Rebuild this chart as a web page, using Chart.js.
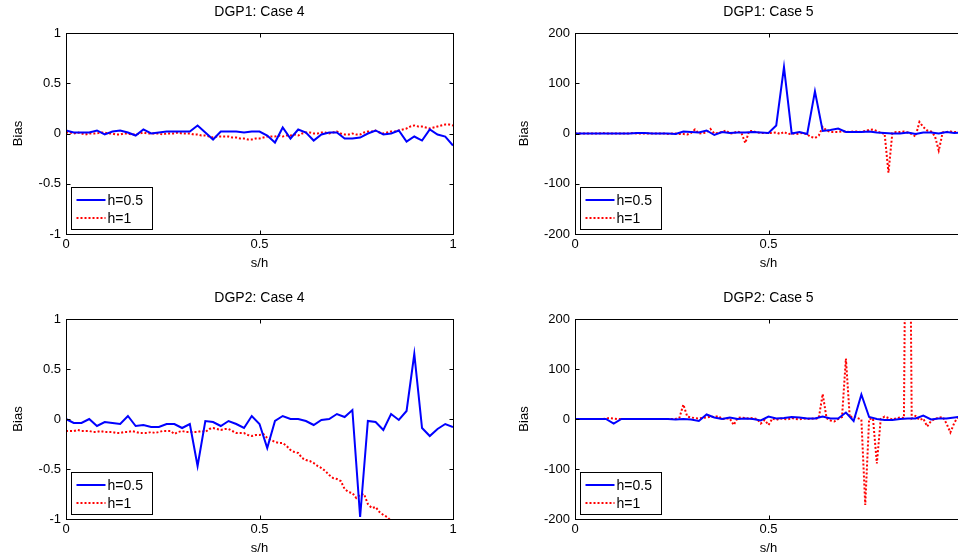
<!DOCTYPE html>
<html>
<head>
<meta charset="utf-8">
<script src="https://cdn.jsdelivr.net/npm/chart.js@4.4.1/dist/chart.umd.min.js"></script>
<style>
  html, body { margin: 0; padding: 0; background: #fff; overflow: hidden; width: 958px; height: 554px; }
  canvas { position: absolute; }
</style>
</head>
<body>
<canvas id="c1" width="479" height="277" style="left:0;top:0"></canvas>
<canvas id="c2" width="500" height="277" style="left:479px;top:0"></canvas>
<canvas id="c3" width="479" height="268" style="left:0;top:286px"></canvas>
<canvas id="c4" width="500" height="268" style="left:479px;top:286px"></canvas>
<script>
// s/h grids: h=0.5 is sampled every 0.02, h=1 every 0.01
const SH_05 = [0, 0.02, 0.04, 0.06, 0.08, 0.1, 0.12, 0.14, 0.16, 0.18, 0.2, 0.22, 0.24, 0.26, 0.28, 0.3,
  0.32, 0.34, 0.36, 0.38, 0.4, 0.42, 0.44, 0.46, 0.48, 0.5, 0.52, 0.54, 0.56, 0.58, 0.6, 0.62, 0.64, 0.66,
  0.68, 0.7, 0.72, 0.74, 0.76, 0.78, 0.8, 0.82, 0.84, 0.86, 0.88, 0.9, 0.92, 0.94, 0.96, 0.98, 1];
const SH_1 = [0, 0.01, 0.02, 0.03, 0.04, 0.05, 0.06, 0.07, 0.08, 0.09, 0.1, 0.11, 0.12, 0.13, 0.14, 0.15,
  0.16, 0.17, 0.18, 0.19, 0.2, 0.21, 0.22, 0.23, 0.24, 0.25, 0.26, 0.27, 0.28, 0.29, 0.3, 0.31, 0.32, 0.33,
  0.34, 0.35, 0.36, 0.37, 0.38, 0.39, 0.4, 0.41, 0.42, 0.43, 0.44, 0.45, 0.46, 0.47, 0.48, 0.49, 0.5, 0.51,
  0.52, 0.53, 0.54, 0.55, 0.56, 0.57, 0.58, 0.59, 0.6, 0.61, 0.62, 0.63, 0.64, 0.65, 0.66, 0.67, 0.68, 0.69,
  0.7, 0.71, 0.72, 0.73, 0.74, 0.75, 0.76, 0.77, 0.78, 0.79, 0.8, 0.81, 0.82, 0.83, 0.84, 0.85, 0.86, 0.87,
  0.88, 0.89, 0.9, 0.91, 0.92, 0.93, 0.94, 0.95, 0.96, 0.97, 0.98, 0.99, 1];

// DGP1: Case 4
const D1C4_H05 = [0.03, 0.01, 0.01, 0.01, 0.03, -0.01, 0.02, 0.03, 0.01, -0.02,
  0.04, 0.00, 0.01, 0.02, 0.02, 0.02, 0.02, 0.08, 0.01, -0.06,
  0.02, 0.02, 0.02, 0.01, 0.02, 0.02, -0.02, -0.09, 0.06, -0.05,
  0.04, 0.01, -0.07, -0.01, 0.01, 0.01, -0.05, -0.05, -0.04, 0.00,
  0.03, -0.01, 0.00, 0.03, -0.08, -0.03, -0.07, 0.04, -0.01, -0.03,
  -0.12];
const D1C4_H1 = [0.01, 0.01, 0.00, 0.01, 0.00, -0.01, 0.00, 0.00, 0.00, 0.01,
  0.01, 0.00, 0.00, -0.01, -0.01, 0.00, 0.00, -0.01, -0.01, 0.00,
  0.01, 0.00, 0.00, 0.00, 0.00, -0.01, 0.00, 0.00, 0.00, 0.01,
  0.00, 0.00, 0.00, -0.01, -0.01, -0.02, -0.02, -0.03, -0.04, -0.03,
  -0.03, -0.03, -0.03, -0.04, -0.04, -0.05, -0.05, -0.06, -0.06, -0.05,
  -0.05, -0.04, -0.03, -0.03, -0.03, -0.02, -0.03, -0.02, -0.02, -0.01,
  -0.02, 0.00, 0.01, 0.01, 0.00, 0.00, 0.01, 0.01, 0.00, 0.01,
  0.02, 0.00, -0.01, -0.01, 0.00, -0.01, -0.01, 0.01, 0.02, 0.02,
  0.03, 0.01, 0.00, 0.01, 0.02, 0.02, 0.03, 0.04, 0.05, 0.07,
  0.08, 0.07, 0.07, 0.06, 0.05, 0.06, 0.07, 0.08, 0.09, 0.09,
  0.08];

// DGP1: Case 5
const D1C5_H05 = [0, 0, 0, 0, 0, 0, 0, 0, 1, 1,
  0, 0, 0, -1, 4, 3, 2, 6, -3, 3,
  1, 2, 2, 3, 2, 1, 16, 132, 0, 3,
  -1, 84, 5, 7, 10, 3, 3, 3, 4, 2,
  1, 0, 0, 2, -1, 2, 2, 0, 3, 1,
  2];
const D1C5_H1 = [0, 0, 0, 0, 0, 0, 0, 1, 0, 0,
  0, 0, 0, 0, 0, 1, 0, 0, 0, 0,
  0, 0, 0, 0, -1, 0, 0, -1, -1, -2,
  1, 8, 0, 1, 2, 9, 0, 1, 3, 6,
  0, 1, 4, 1, -19, 5, 5, 2, 1, 1,
  1, 1, 2, -1, 3, -1, 0, -1, 0, 1,
  -2, -7, -9, -4, 13, 6, 3, 3, 3, 4,
  4, 3, 4, 4, 3, 5, 7, 8, 5, 1,
  0, -78, 1, 3, 3, 4, 2, -1, -6, 23,
  13, 6, 4, -5, -34, 2, 3, 4, 3, 3,
  2];

// DGP2: Case 4
const D2C4_H05 = [0.00, -0.04, -0.04, 0.00, -0.07, -0.03, -0.04, -0.05, 0.03, -0.07,
  -0.06, -0.08, -0.08, -0.05, -0.05, -0.09, -0.05, -0.47, -0.02, -0.03,
  -0.07, -0.02, -0.05, -0.09, 0.03, -0.05, -0.29, -0.02, 0.03, 0.00,
  0.00, -0.02, -0.06, -0.01, 0.00, 0.05, 0.02, 0.09, -0.98, -0.02,
  -0.03, -0.11, 0.05, -0.01, 0.08, 0.65, -0.09, -0.17, -0.10, -0.05,
  -0.08];
const D2C4_H1 = [-0.12, -0.12, -0.12, -0.11, -0.12, -0.12, -0.12, -0.13, -0.13, -0.12,
  -0.13, -0.13, -0.13, -0.14, -0.14, -0.13, -0.13, -0.12, -0.13, -0.14,
  -0.14, -0.14, -0.13, -0.14, -0.13, -0.12, -0.12, -0.12, -0.15, -0.13,
  -0.12, -0.13, -0.13, -0.13, -0.13, -0.12, -0.13, -0.10, -0.09, -0.10,
  -0.11, -0.10, -0.10, -0.12, -0.14, -0.14, -0.14, -0.16, -0.17, -0.16,
  -0.16, -0.15, -0.19, -0.21, -0.23, -0.24, -0.24, -0.27, -0.31, -0.33,
  -0.34, -0.39, -0.41, -0.42, -0.44, -0.47, -0.49, -0.52, -0.56, -0.59,
  -0.60, -0.62, -0.70, -0.73, -0.74, -0.79, -0.76, -0.75, -0.85, -0.89,
  -0.88, -0.93, -0.96, -0.98, -1.02, -1.05, -1.08, -1.10, -1.13, -1.15,
  -1.18, -1.20, -1.22, -1.25, -1.27, -1.30, -1.32, -1.34, -1.36, -1.38,
  -1.40];

// DGP2: Case 5
const D2C5_H05 = [0, 0, 0, 0, 0, -9, 0, 0, 0, 0,
  0, 0, 0, -1, 0, -1, -4, 9, 3, 0,
  3, 0, 1, 0, -3, 5, 1, 2, 4, 3,
  1, 1, 5, 1, 1, 13, -4, 49, 4, 0,
  -2, -2, 0, 1, 1, 7, -1, 1, 1, 3,
  5];
const D2C5_H1 = [0, 0, 0, 0, 0, 0, 0, 0, 1, 2,
  1, 0, 0, 0, 0, 0, 0, 0, 0, 0,
  0, 0, 0, 0, 0, 0, 0, 3, 29, 5,
  3, 2, 1, 2, 3, 5, 4, 6, 0, 1,
  1, -12, 2, 3, 2, 1, 2, 0, -9, -2,
  -12, 1, -2, 1, 0, -1, 2, 0, -1, 1,
  0, 1, 0, 2, 50, 2, -3, -5, 0, 4,
  121, 3, 6, 2, -1, -172, 0, 1, -89, 0,
  5, 2, -1, 1, 3, 2, 1000, 1, 6, -2,
  1, -15, -4, 0, 3, 4, -9, -27, -8, 5,
  3];

const X_TICKS = [0, 0.5, 1];
const Y_TICKS_SMALL = [-1, -0.5, 0, 0.5, 1];
const Y_TICKS_BIG = [-200, -100, 0, 100, 200];
const SERIES_LABELS = ['h=0.5', 'h=1'];

const FONT = '"Liberation Sans", Arial, Helvetica, sans-serif';
const BLUE = '#0000ff';
const RED = '#ff0000';
const RED_DASH = [2, 2];

// ===== MATLAB-style frame, inward ticks, legend and labels =====
const matlabFrame = {
  id: 'matlabFrame',
  afterDatasetsDraw(chart, args, opts) {
    const { ctx, chartArea: a, scales: { x, y } } = chart;
    const L = Math.round(a.left) + 0.5, R = Math.round(a.right) + 0.5;
    const T = Math.round(a.top) + 0.5, B = Math.round(a.bottom) + 0.5;
    ctx.save();
    ctx.strokeStyle = '#000';
    ctx.lineWidth = 1;
    ctx.setLineDash([]);

    // inward ticks on all four sides
    ctx.beginPath();
    x.ticks.forEach(t => {
      const px = Math.round(x.getPixelForValue(t.value)) + 0.5;
      ctx.moveTo(px, B); ctx.lineTo(px, B - 4);
      ctx.moveTo(px, T); ctx.lineTo(px, T + 4);
    });
    y.ticks.forEach(t => {
      const py = Math.round(y.getPixelForValue(t.value)) + 0.5;
      ctx.moveTo(L, py); ctx.lineTo(L + 4, py);
      ctx.moveTo(R, py); ctx.lineTo(R - 4, py);
    });
    ctx.stroke();
    ctx.strokeRect(L, T, R - L, B - T);

    // legend box, bottom-left inside the axes
    const bx = L + 5, by = B - 5 - 42;
    ctx.fillStyle = '#fff';
    ctx.fillRect(bx, by, 81, 42);
    ctx.strokeRect(bx, by, 81, 42);
    const rows = [
      { label: SERIES_LABELS[0], color: BLUE, dash: [] },
      { label: SERIES_LABELS[1], color: RED, dash: RED_DASH },
    ];
    rows.forEach((r, i) => {
      const ry = Math.round(by + 12 + i * 18.5);
      ctx.strokeStyle = r.color;
      ctx.lineWidth = 2;
      ctx.setLineDash(r.dash);
      ctx.beginPath();
      ctx.moveTo(bx + 5, ry);
      ctx.lineTo(bx + 34, ry);
      ctx.stroke();
      ctx.setLineDash([]);
      ctx.fillStyle = '#000';
      ctx.font = '14px ' + FONT;
      ctx.textAlign = 'left';
      ctx.textBaseline = 'middle';
      ctx.fillText(r.label, bx + 36, ry + 1);
    });

    // title, x label, y label
    const cx = (a.left + a.right) / 2;
    ctx.fillStyle = '#000';
    ctx.textAlign = 'center';
    ctx.textBaseline = 'middle';
    ctx.font = '14px ' + FONT;
    ctx.fillText(opts.title, cx, a.top - 21);
    ctx.font = '13px ' + FONT;
    ctx.fillText('s/h', cx, a.bottom + 29);
    ctx.translate(a.left - opts.biasOffset, (a.top + a.bottom) / 2);
    ctx.rotate(-Math.PI / 2);
    ctx.fillText('Bias', 0, 0);
    ctx.restore();
  },
};

function pts(xs, ys) {
  return ys.map((v, i) => ({ x: xs[i], y: v }));
}

// plain MATLAB-like tick text: 1, 0.5, -1 (no trailing .0)
const tickText = v => String(v);

function makePanel(id, cfg) {
  const tickFont = { family: FONT, size: 13 };
  return new Chart(document.getElementById(id), {
    type: 'line',
    data: {
      datasets: [
        {
          label: SERIES_LABELS[0],
          data: pts(SH_05, cfg.h05),
          borderColor: BLUE,
          borderWidth: 2,
          pointRadius: 0,
          tension: 0,
        },
        {
          label: SERIES_LABELS[1],
          data: pts(SH_1, cfg.h1),
          borderColor: RED,
          borderWidth: 2,
          borderDash: RED_DASH,
          pointRadius: 0,
          tension: 0,
        },
      ],
    },
    options: {
      responsive: false,
      animation: false,
      events: [],
      layout: { padding: { left: 0, right: cfg.padRight, top: 33, bottom: 0 } },
      plugins: {
        legend: { display: false },
        tooltip: { enabled: false },
        matlabFrame: { title: cfg.title, biasOffset: cfg.biasOffset },
      },
      scales: {
        x: {
          type: 'linear',
          min: 0, max: 1,
          grid: { display: false, drawTicks: false },
          border: { display: false },
          ticks: { color: '#000', font: tickFont, padding: 3, maxRotation: 0, callback: tickText },
          afterBuildTicks: s => { s.ticks = X_TICKS.map(v => ({ value: v })); },
          afterFit: s => { s.height = cfg.xHeight; },
        },
        y: {
          type: 'linear',
          min: cfg.yTicks[0], max: cfg.yTicks[cfg.yTicks.length - 1],
          grid: { display: false, drawTicks: false },
          border: { display: false },
          ticks: { color: '#000', font: tickFont, padding: 5, callback: tickText },
          afterBuildTicks: s => { s.ticks = cfg.yTicks.map(v => ({ value: v })); },
          afterFit: s => { s.width = cfg.yWidth; },
        },
      },
    },
    plugins: [matlabFrame],
  });
}

makePanel('c1', { title: 'DGP1: Case 4', h05: D1C4_H05, h1: D1C4_H1, yTicks: Y_TICKS_SMALL,
  yWidth: 66, padRight: 26, xHeight: 43, biasOffset: 48 });
makePanel('c2', { title: 'DGP1: Case 5', h05: D1C5_H05, h1: D1C5_H1, yTicks: Y_TICKS_BIG,
  yWidth: 96, padRight: 17, xHeight: 43, biasOffset: 51 });
makePanel('c3', { title: 'DGP2: Case 4', h05: D2C4_H05, h1: D2C4_H1, yTicks: Y_TICKS_SMALL,
  yWidth: 66, padRight: 26, xHeight: 35, biasOffset: 48 });
makePanel('c4', { title: 'DGP2: Case 5', h05: D2C5_H05, h1: D2C5_H1, yTicks: Y_TICKS_BIG,
  yWidth: 96, padRight: 17, xHeight: 35, biasOffset: 51 });
</script>
</body>
</html>
